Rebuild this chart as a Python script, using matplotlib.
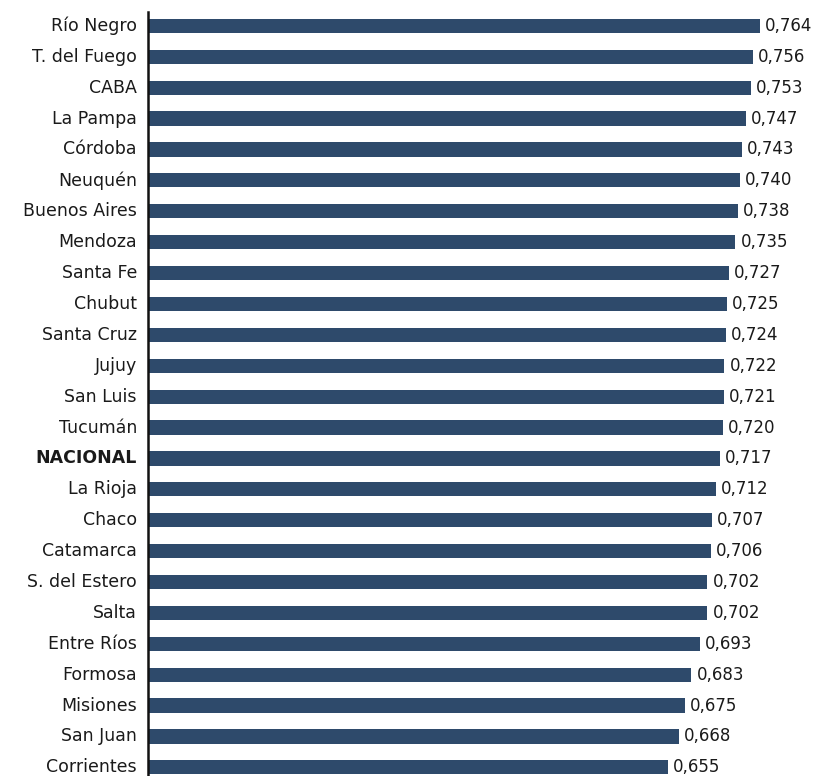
import matplotlib
matplotlib.use("Agg")
import matplotlib.pyplot as plt

provinces = ["Río Negro", "T. del Fuego", "CABA", "La Pampa", "Córdoba", "Neuquén",
             "Buenos Aires", "Mendoza", "Santa Fe", "Chubut", "Santa Cruz", "Jujuy",
             "San Luis", "Tucumán", "NACIONAL", "La Rioja", "Chaco", "Catamarca",
             "S. del Estero", "Salta", "Entre Ríos", "Formosa", "Misiones", "San Juan",
             "Corrientes"]
values = [0.764, 0.756, 0.753, 0.747, 0.743, 0.740, 0.738, 0.735, 0.727, 0.725,
          0.724, 0.722, 0.721, 0.720, 0.717, 0.712, 0.707, 0.706, 0.702, 0.702,
          0.693, 0.683, 0.675, 0.668, 0.655]

W, H = 815, 776
fig = plt.figure(figsize=(W / 100, H / 100), dpi=100)
left, top, bottom = 148, 12, 776
ax = fig.add_axes([left / W, 1 - bottom / H, 1 - left / W, (bottom - top) / H])

bar_color = "#2e4a6b"
ypos = list(range(len(provinces)))
ax.barh(ypos, values, height=0.46, color=bar_color, left=0)
ax.set_xlim(0.0414, 0.829)
ax.set_ylim(len(provinces) - 1 + 0.28, -0.45)

for y, v in zip(ypos, values):
    ax.text(v + 0.006, y, f"{v:.3f}".replace(".", ","), va="center", ha="left",
            fontsize=12, color="#1a1a1a")

ax.set_yticks(ypos)
ax.set_yticklabels(provinces, fontsize=12.5, color="#1a1a1a", va="center")
for lbl in ax.get_yticklabels():
    if lbl.get_text() == "NACIONAL":
        lbl.set_fontweight("bold")
ax.tick_params(axis="y", length=0, pad=8)
ax.set_xticks([])
for s in ["top", "right", "bottom"]:
    ax.spines[s].set_visible(False)
ax.spines["left"].set_linewidth(1.8)
ax.spines["left"].set_color("#111111")

fig.savefig("out.png", dpi=100)
